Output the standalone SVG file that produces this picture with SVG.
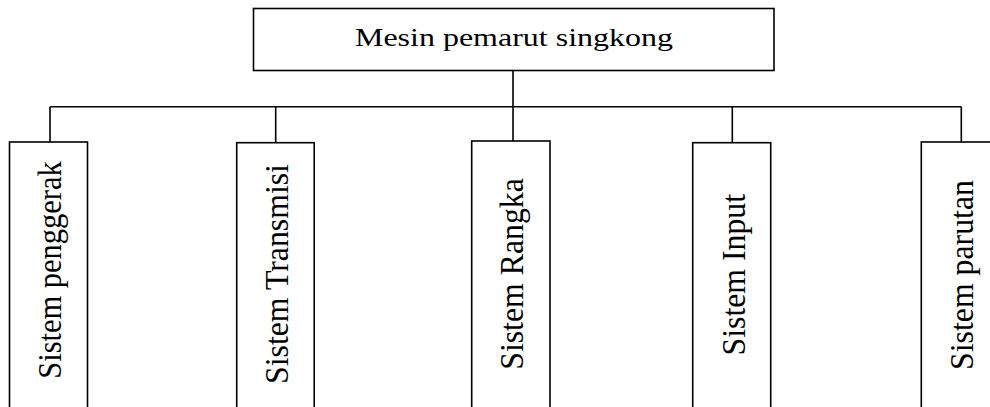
<svg xmlns="http://www.w3.org/2000/svg" width="990" height="407" viewBox="0 0 990 407">
<style>
.box{fill:#fff;stroke:#000;stroke-width:1.6}
.ln{fill:none;stroke:#000;stroke-width:1.6}
.t{font-family:'Liberation Serif','Times New Roman',serif;fill:#000;text-anchor:middle}
.v{font-size:31.8px}
</style>
<rect width="990" height="407" fill="#fff"/>
<g id="connectors">
<path class="ln" d="M513,70.5 V141 M50,106.7 H961.3 M50,106.7 V142 M275.7,106.7 V142.7 M732.3,106.7 V142.7 M961.3,106.7 V142"/>
</g>
<g id="root">
<rect class="box" x="253.5" y="8.5" width="520.5" height="62"/>
<text class="t" font-size="25" transform="translate(514,46) scale(1.28,1)">Mesin pemarut singkong</text>
</g>
<g id="n1">
<rect class="box" x="9.5" y="142" width="78" height="280"/>
<text class="t v" style="font-size:30.5px" transform="translate(61,270) scale(1.1,1) rotate(-90)">Sistem penggerak</text>
</g>
<g id="n2">
<rect class="box" x="236.7" y="142.7" width="77.5" height="280"/>
<text class="t v" transform="translate(288.3,274) scale(1.08,1) rotate(-90)">Sistem Transmisi</text>
</g>
<g id="n3">
<rect class="box" x="471.7" y="141" width="78.3" height="280"/>
<text class="t v" transform="translate(523.3,274) scale(1.08,1) rotate(-90)">Sistem Rangka</text>
</g>
<g id="n4">
<rect class="box" x="692.7" y="142.7" width="78" height="280"/>
<text class="t v" transform="translate(745,274.7) scale(1.08,1) rotate(-90)">Sistem Input</text>
</g>
<g id="n5">
<rect class="box" x="921.3" y="142" width="78" height="280"/>
<text class="t v" transform="translate(973.3,275) scale(1.08,1) rotate(-90)">Sistem parutan</text>
</g>
</svg>
